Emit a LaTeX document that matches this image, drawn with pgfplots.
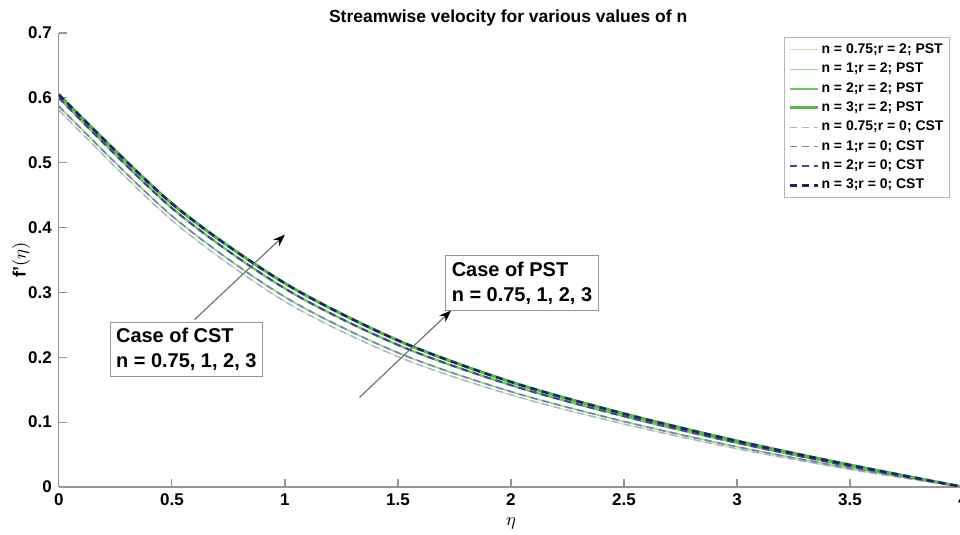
\documentclass[border=0pt]{standalone}
\usepackage{pgfplots}
\pgfplotsset{compat=1.18}
\usepackage{pgfplotstable}
\usepackage{fontspec}
\setmainfont{Liberation Sans}
\usetikzlibrary{arrows.meta}

% line colours: PST (solid greens), CST (dashed blues)
\definecolor{pstA}{RGB}{190,228,180}
\definecolor{pstB}{RGB}{150,212,135}
\definecolor{pstC}{RGB}{110,196,95}
\definecolor{pstD}{RGB}{85,180,75}
\definecolor{cstA}{RGB}{170,176,205}
\definecolor{cstB}{RGB}{118,126,175}
\definecolor{cstC}{RGB}{62,72,140}
\definecolor{cstD}{RGB}{28,36,98}
\definecolor{axgray}{RGB}{150,150,150}

% streamwise velocity f'(eta) for n = 0.75, 1, 2, 3
\pgfplotstableread{
eta  n075  n1    n2    n3
0.0  0.581 0.587 0.600 0.605
0.5  0.411 0.418 0.430 0.437
1.0  0.286 0.293 0.306 0.314
1.5  0.201 0.207 0.219 0.226
2.0  0.142 0.147 0.157 0.162
2.5  0.097 0.101 0.109 0.113
3.0  0.059 0.062 0.068 0.071
3.5  0.027 0.029 0.032 0.034
4.0  0.000 0.000 0.000 0.000
}\velocity

\begin{document}
\begin{tikzpicture}
\begin{axis}[
  scale only axis,
  width=453pt, height=227.5pt,
  xmin=0, xmax=4, ymin=0, ymax=0.7,
  xtick={0,0.5,...,4}, ytick={0,0.1,...,0.7},
  axis x line=bottom, axis y line=left,
  axis line style={-, draw=axgray, line width=0.6pt},
  tick style={draw=axgray, line width=0.6pt},
  tick align=inside, major tick length=4pt,
  /pgf/number format/assume math mode=true,
  ticklabel style={font=\bfseries\fontsize{8.5}{10}\selectfont},
  xlabel={$\eta$},
  xlabel style={font=\fontsize{9}{10}\selectfont, yshift=1pt},
  ylabel={\textbf{f'}$(\eta)$},
  ylabel style={font=\fontsize{9}{10}\selectfont, at={(axis description cs:-0.024,0.5)}, anchor=south},
  legend style={at={(0.9857,0.991)}, anchor=north east, draw=axgray!70,
    font=\bfseries\fontsize{7}{8}\selectfont, row sep=1.1pt,
    inner xsep=2pt, inner ysep=2pt, nodes={inner sep=1.1pt}},
  legend cell align=left,
  legend image code/.code={\draw[#1] (0pt,0pt) -- (14pt,0pt);},
  every axis plot/.append style={smooth},
]
\addplot[pstA, line width=0.5pt] table[x=eta, y=n075] {\velocity};
\addlegendentry{n = 0.75;r = 2; PST}
\addplot[pstB, line width=0.8pt] table[x=eta, y=n1] {\velocity};
\addlegendentry{n = 1;r = 2; PST}
\addplot[pstC, line width=1.1pt] table[x=eta, y=n2] {\velocity};
\addlegendentry{n = 2;r = 2; PST}
\addplot[pstD, line width=1.5pt] table[x=eta, y=n3] {\velocity};
\addlegendentry{n = 3;r = 2; PST}
\addplot[cstA, line width=0.7pt, dash pattern=on 3.5pt off 2.5pt] table[x=eta, y=n075] {\velocity};
\addlegendentry{n = 0.75;r = 0; CST}
\addplot[cstB, line width=0.8pt, dash pattern=on 3.5pt off 2.5pt] table[x=eta, y=n1] {\velocity};
\addlegendentry{n = 1;r = 0; CST}
\addplot[cstC, line width=1pt, dash pattern=on 3.5pt off 2.5pt] table[x=eta, y=n2] {\velocity};
\addlegendentry{n = 2;r = 0; CST}
\addplot[cstD, line width=1.2pt, dash pattern=on 3.5pt off 2.5pt] table[x=eta, y=n3] {\velocity};
\addlegendentry{n = 3;r = 0; CST}

% annotation arrows and boxes
\draw[black!55, line width=0.6pt, -{Stealth[black, length=6pt, width=4.5pt]}]
  (axis cs:0.60,0.258) -- (axis cs:1.00,0.389);
\draw[black!55, line width=0.6pt, -{Stealth[black, length=6pt, width=4.5pt]}]
  (axis cs:1.33,0.138) -- (axis cs:1.735,0.272);
\node[draw=axgray, fill=white, align=left, anchor=north west, inner xsep=3pt, inner ysep=3pt,
  font=\bfseries\fontsize{10}{12.5}\selectfont]
  at (axis cs:0.225,0.255) {Case of CST\\n = 0.75, 1, 2, 3};
\node[draw=axgray, fill=white, align=left, anchor=north west, inner xsep=3pt, inner ysep=3pt,
  font=\bfseries\fontsize{10}{12.5}\selectfont]
  at (axis cs:1.71,0.357) {Case of PST\\n = 0.75, 1, 2, 3};
\end{axis}
% chart title
\node[anchor=base, font=\bfseries\fontsize{8.75}{10}\selectfont]
  at ([xshift=-1.4pt,yshift=5pt]current axis.north) {Streamwise velocity for various values of n};
\pgfresetboundingbox
\useasboundingbox ([xshift=-29.5pt,yshift=-24pt]current axis.south west)
  rectangle ([xshift=-1.5pt,yshift=16.5pt]current axis.north east);
\end{tikzpicture}
\end{document}
